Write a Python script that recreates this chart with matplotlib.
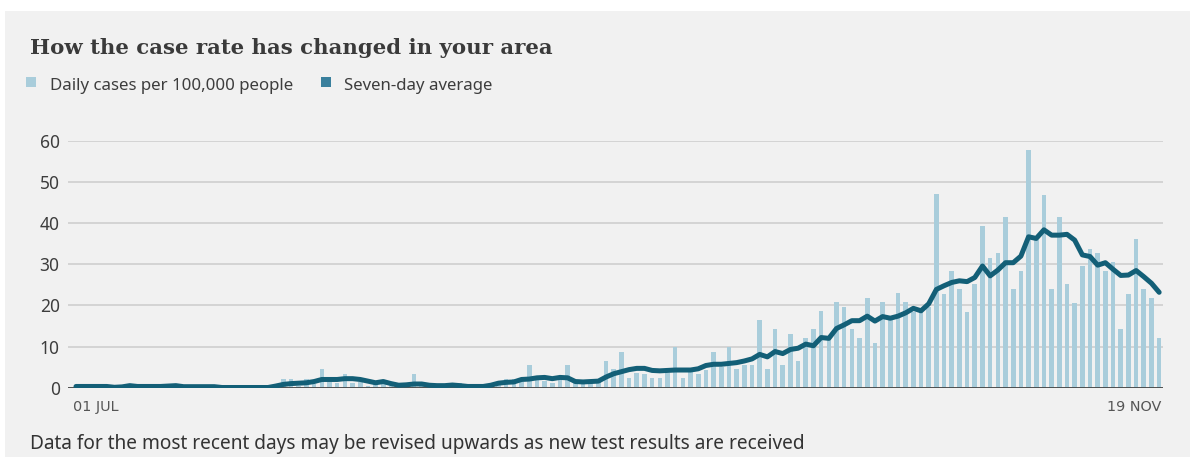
import matplotlib
matplotlib.use("Agg")
import matplotlib.pyplot as plt
from matplotlib.patches import Rectangle
import numpy as np
import pandas as pd

# ---- data ----
dates = pd.date_range("2020-07-01", "2020-11-19", freq="D")
daily_cases = [
    0.3, 0.3, 0.2, 0.3, 0.2, 0.0, 0.3, 1.0, 0.3, 0.2,
    0.3, 0.2, 0.5, 1.0, 0.3, 0.2, 0.3, 0.0, 0.2, 0.0,
    0.0, 0.0, 0.0, 0.0, 0.0, 0.0, 0.3, 2.2, 2.2, 0.5,
    2.0, 1.0, 4.5, 1.5, 1.2, 3.3, 1.2, 1.5, 0.5, 1.2,
    1.1, 0.5, 0.3, 0.5, 3.3, 1.5, 0.3, 0.5, 0.3, 0.5,
    1.2, 0.3, 0.2, 0.3, 0.5, 1.5, 2.2, 2.2, 1.5, 5.5,
    2.0, 1.7, 1.2, 2.0, 5.5, 1.5, 0.8, 1.2, 1.5, 6.6,
    4.5, 8.8, 2.3, 3.5, 3.3, 2.3, 2.3, 3.5, 9.8, 2.3,
    3.7, 3.3, 4.3, 8.8, 5.0, 9.8, 4.5, 5.5, 5.5, 16.5,
    4.5, 14.3, 5.4, 13.1, 6.6, 12.0, 14.2, 18.6, 11.5, 20.8,
    19.7, 14.2, 12.0, 21.9, 10.9, 20.8, 16.5, 23.0, 20.8, 18.5,
    18.5, 19.7, 47.0, 22.9, 28.4, 24.0, 18.5, 25.1, 39.3, 31.6,
    32.7, 41.4, 24.0, 28.4, 57.8, 36.0, 46.9, 24.0, 41.4, 25.1,
    20.7, 29.5, 33.8, 32.7, 28.4, 30.5, 14.2, 22.9, 36.1, 24.0,
    21.8, 12.0,
]
seven_day_avg = [
    0.3, 0.3, 0.3, 0.3, 0.3, 0.1, 0.2, 0.5, 0.3, 0.3,
    0.3, 0.3, 0.4, 0.5, 0.25, 0.25, 0.25, 0.25, 0.25, 0.05,
    0.05, 0.05, 0.05, 0.05, 0.05, 0.05, 0.4, 0.8, 1.0, 1.1,
    1.2, 1.5, 2.0, 2.0, 2.0, 2.2, 2.2, 2.0, 1.6, 1.2,
    1.5, 1.0, 0.6, 0.7, 0.9, 0.9, 0.6, 0.5, 0.5, 0.65,
    0.5, 0.3, 0.3, 0.3, 0.6, 1.1, 1.3, 1.4, 2.0, 2.1,
    2.4, 2.5, 2.2, 2.5, 2.4, 1.5, 1.4, 1.5, 1.6, 2.6,
    3.4, 3.9, 4.4, 4.7, 4.7, 4.2, 4.1, 4.2, 4.3, 4.3,
    4.3, 4.6, 5.4, 5.7, 5.7, 5.9, 6.1, 6.5, 7.0, 8.1,
    7.5, 8.8, 8.3, 9.3, 9.6, 10.6, 10.2, 12.2, 12.0, 14.4,
    15.3, 16.3, 16.3, 17.4, 16.2, 17.3, 16.9, 17.4, 18.2, 19.3,
    18.7, 20.4, 23.9, 24.8, 25.6, 26.0, 25.8, 26.8, 29.6, 27.2,
    28.6, 30.4, 30.4, 32.0, 36.7, 36.3, 38.4, 37.1, 37.1, 37.3,
    35.9, 32.3, 31.9, 29.8, 30.4, 28.8, 27.3, 27.4, 28.5, 27.0,
    25.4, 23.2,
]
y_ticks = [0, 10, 20, 30, 40, 50, 60]
x_tick_labels = ["01 JUL", "19 NOV"]
title = "How the case rate has changed in your area"
legend_labels = ["Daily cases per 100,000 people", "Seven-day average"]
footnote = "Data for the most recent days may be revised upwards as new test results are received"

# ---- style ----
W, H = 1195, 457
BG = "#f1f1f1"
BAR_C = "#a9cddb"
LINE_C = "#135f77"
LEG_LINE_C = "#3a809d"
TXT = "#3d3d3d"
SANS = ["Noto Sans", "DejaVu Sans"]

fig = plt.figure(figsize=(W / 100, H / 100), dpi=100)
fig.patch.set_facecolor("white")

def fx(px):
    return px / W

def fy(py):
    return 1 - py / H

# grey panel
panel = Rectangle((fx(5), 0), fx(1190) - fx(5), fy(11), transform=fig.transFigure,
                  facecolor=BG, edgecolor="none", zorder=-10)
fig.add_artist(panel)

ax = fig.add_axes([fx(68), fy(387.7), fx(1163) - fx(68), (387.7 - 141) / H])
ax.set_zorder(5)
ax.patch.set_visible(False)

x = np.arange(len(daily_cases))
ax.bar(x, daily_cases, width=0.6, color=BAR_C, zorder=2)
ax.plot(x, seven_day_avg, color=LINE_C, lw=3.6, solid_joinstyle="round",
        solid_capstyle="round", zorder=4)

ax.set_xlim(-1.04, 141.5)
ax.set_ylim(0, 60)
ax.set_yticks(y_ticks)
ax.set_yticklabels([str(v) for v in y_ticks], fontfamily=SANS, fontsize=12.5, color=TXT)
ax.grid(axis="y", color="#cfcfcf", lw=1.2, zorder=1)
ax.axhline(0, color="#3a3a3a", lw=1.2, zorder=3)
ax.set_xticks([-0.45, len(daily_cases) - 1 + 0.35])
ax.set_xticklabels(x_tick_labels, fontfamily=["DejaVu Sans"], fontsize=10.4, color="#555555")
labs = ax.get_xticklabels()
labs[0].set_ha("left")
labs[1].set_ha("right")
ax.tick_params(axis="y", length=0, pad=6)
ax.tick_params(axis="x", length=0, pad=9)
for s in ax.spines.values():
    s.set_visible(False)
ax.set_axisbelow(True)

# title
fig.text(fx(30), fy(54), title, fontfamily=["DejaVu Serif"], fontweight="bold",
         fontsize=15.3, color="#3a3a3a", va="baseline", ha="left")

# legend
fig.add_artist(Rectangle((fx(26), fy(87.3)), fx(10.3), 10.5 / H, transform=fig.transFigure,
                         facecolor=BAR_C, edgecolor="none"))
fig.text(fx(50), fy(90.5), legend_labels[0], fontfamily=SANS, fontsize=12.15, color=TXT,
         va="baseline", ha="left")
fig.add_artist(Rectangle((fx(321), fy(87.3)), fx(10.3), 10.5 / H, transform=fig.transFigure,
                         facecolor=LEG_LINE_C, edgecolor="none"))
fig.text(fx(344), fy(90.5), legend_labels[1], fontfamily=SANS, fontsize=12.1, color=TXT,
         va="baseline", ha="left")

# footnote
fig.text(fx(30), fy(448.5), footnote, fontfamily=SANS, fontsize=13.72, color="#333333",
         va="baseline", ha="left")

fig.savefig("out.png", dpi=100, facecolor=fig.get_facecolor())
